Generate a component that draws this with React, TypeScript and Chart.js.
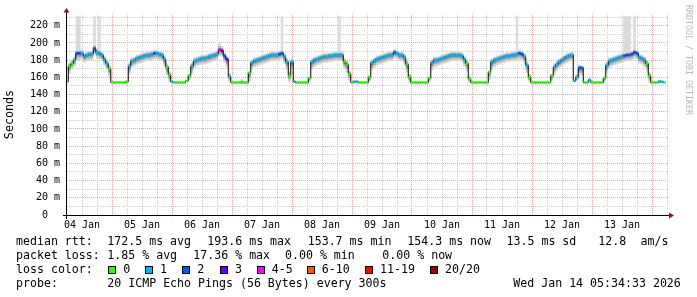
import { useEffect, useRef } from 'react';
import { Chart, registerables } from 'chart.js';

Chart.register(...registerables);

// ---------- data ----------
const dayLabels = ['04 Jan', '05 Jan', '06 Jan', '07 Jan', '08 Jan', '09 Jan', '10 Jan', '11 Jan', '12 Jan', '13 Jan'];

// first sample: 04 Jan 06:00, hourly (hours since 04 Jan 00:00)
const startHour = 6;

// median rtt (ms), one value per hour
const medianRtt = [
  // 04 Jan 06-23
  155, 173, 176, 180, 188, 188, 188, 184, 186, 187, 187, 193.6, 189, 188, 186, 181, 176, 170,
  // 05 Jan
  154, 154, 154, 154, 154, 154, 155, 173, 179, 180, 182, 183, 184, 185, 186, 186, 187, 188, 188, 187, 186, 181, 172, 163,
  // 06 Jan
  155, 154, 154, 154, 154, 154, 156, 162, 173, 179, 180, 181, 182, 182, 183, 184, 185, 186, 187, 192, 191, 185, 181, 161,
  // 07 Jan
  154, 154, 154, 154, 154, 154, 154, 165, 177, 179, 180, 181, 182, 183, 184, 185, 186, 186, 186, 187, 188, 184, 178, 162,
  // 08 Jan
  178, 155, 154, 154, 154, 154, 154, 159, 178, 180, 181, 182, 183, 184, 184, 185, 185, 186, 186, 186, 186, 178, 175, 164,
  // 09 Jan
  154, 155, 155, 154, 154, 154, 154, 160, 177, 179, 181, 182, 183, 184, 185, 186, 186, 189, 188, 186, 186, 183, 175, 160,
  // 10 Jan
  154, 154, 154, 154, 154, 154, 154, 159, 177, 180, 180, 181, 182, 183, 184, 185, 186, 186, 186, 186, 185, 181, 176, 158,
  // 11 Jan
  154, 154, 154, 154, 154, 154, 154, 166, 178, 180, 181, 182, 183, 184, 185, 185, 186, 186, 187, 188, 187, 184, 174, 160,
  // 12 Jan
  154, 154, 154, 154, 154, 154, 154, 154, 162, 172, 175, 178, 180, 182, 184, 185, 186, 156, 160, 171, 171, 154, 154, 157,
  // 13 Jan
  154, 154, 154, 154, 154, 159, 174, 179, 180, 181, 182, 183, 184, 185, 186, 186, 187, 189, 188, 183, 182, 180, 176, 162,
  // 14 Jan 00-05
  154, 154, 154, 155, 155, 154,
];

// lost pings (out of 20) per hour
const lossCount = [
  0, 0, 0, 1, 2, 2, 1, 1, 1, 1, 1, 2, 1, 1, 1, 1, 1, 0,
  0, 0, 0, 0, 0, 0, 0, 1, 1, 1, 1, 1, 1, 1, 1, 1, 1, 2, 1, 1, 1, 1, 0, 0,
  1, 0, 0, 0, 0, 0, 0, 0, 1, 1, 1, 1, 1, 1, 1, 1, 1, 1, 1, 4, 3, 2, 3, 1,
  0, 0, 0, 0, 0, 0, 0, 0, 1, 1, 1, 1, 1, 1, 1, 1, 1, 1, 1, 2, 2, 1, 1, 0,
  1, 1, 0, 0, 0, 0, 0, 0, 1, 1, 1, 1, 1, 1, 1, 1, 1, 1, 1, 1, 1, 0, 0, 0,
  0, 1, 1, 0, 0, 0, 0, 0, 1, 1, 1, 1, 1, 1, 1, 1, 1, 2, 1, 1, 1, 1, 0, 0,
  0, 0, 0, 0, 0, 0, 0, 0, 1, 1, 1, 1, 1, 1, 1, 1, 1, 1, 1, 1, 1, 1, 0, 0,
  0, 0, 0, 0, 0, 0, 0, 0, 1, 1, 1, 1, 1, 1, 1, 1, 1, 1, 1, 2, 2, 1, 1, 0,
  0, 0, 0, 0, 0, 0, 0, 0, 0, 1, 1, 1, 1, 1, 1, 1, 1, 1, 1, 2, 2, 0, 0, 1,
  0, 0, 0, 0, 0, 0, 1, 1, 1, 1, 1, 1, 1, 2, 2, 2, 2, 2, 2, 1, 1, 1, 0, 0,
  0, 0, 0, 1, 1, 0,
];

// smoke spread above the median (ms)
const smokeUp = [
  1, 4, 4, 4, 4, 4, 4, 4, 4, 4, 4, 4, 4, 4, 4, 4, 4, 4,
  1, 1, 1, 1, 1, 1, 1, 4, 4, 4, 4, 4, 4, 4, 4, 4, 4, 4, 4, 4, 4, 4, 4, 4,
  1, 1, 1, 1, 1, 1, 1, 2, 4, 4, 4, 4, 4, 4, 4, 4, 4, 4, 4, 6, 5, 4, 4, 4,
  1, 1, 1, 1, 4, 1, 1, 2, 4, 4, 4, 4, 4, 4, 4, 4, 4, 4, 4, 4, 4, 4, 4, 5,
  4, 1, 1, 1, 1, 1, 1, 2, 4, 4, 4, 4, 4, 4, 4, 4, 4, 4, 4, 4, 4, 4, 4, 4,
  1, 1, 1, 1, 1, 1, 1, 2, 4, 4, 4, 4, 4, 4, 4, 4, 4, 4, 4, 4, 4, 4, 4, 4,
  1, 1, 1, 1, 1, 1, 1, 2, 4, 4, 4, 4, 4, 4, 4, 4, 4, 4, 4, 4, 4, 4, 4, 4,
  1, 1, 1, 1, 1, 1, 1, 2, 4, 4, 4, 4, 4, 4, 4, 4, 4, 4, 4, 4, 4, 4, 4, 4,
  1, 1, 1, 1, 1, 1, 1, 1, 2, 4, 4, 4, 4, 4, 4, 4, 4, 1, 4, 4, 2, 1, 1, 2,
  1, 1, 1, 1, 1, 2, 4, 4, 4, 4, 4, 4, 4, 4, 4, 4, 4, 4, 4, 4, 4, 4, 4, 4,
  1, 1, 1, 2, 1, 1,
];

// smoke spread below the median (ms)
const smokeDown = [
  1, 9, 7, 7, 8, 8, 7, 7, 7, 7, 7, 7, 7, 7, 7, 7, 7, 9,
  1, 1, 1, 1, 1, 1, 1, 10, 8, 7, 7, 7, 7, 7, 7, 7, 7, 7, 7, 7, 7, 8, 9, 8,
  1, 1, 1, 1, 1, 1, 1, 5, 9, 8, 7, 7, 7, 7, 7, 7, 7, 7, 7, 7, 7, 8, 9, 6,
  1, 1, 1, 1, 1, 1, 1, 10, 8, 7, 7, 7, 7, 7, 7, 7, 7, 7, 7, 7, 7, 8, 9, 7,
  9, 1, 1, 1, 1, 1, 1, 4, 9, 8, 7, 7, 7, 7, 7, 7, 7, 7, 7, 7, 7, 8, 9, 8,
  1, 1, 1, 1, 1, 1, 1, 5, 9, 8, 7, 7, 7, 7, 7, 7, 7, 7, 7, 7, 7, 8, 9, 5,
  1, 1, 1, 1, 1, 1, 1, 4, 9, 8, 7, 7, 7, 7, 7, 7, 7, 7, 7, 7, 7, 8, 9, 4,
  1, 1, 1, 1, 1, 1, 1, 9, 9, 8, 7, 7, 7, 7, 7, 7, 7, 7, 7, 7, 7, 8, 9, 5,
  1, 1, 1, 1, 1, 1, 1, 1, 6, 8, 7, 7, 7, 7, 7, 7, 7, 1, 4, 9, 9, 1, 1, 2,
  1, 1, 1, 1, 1, 4, 9, 8, 7, 7, 7, 7, 7, 7, 7, 7, 7, 7, 7, 7, 7, 8, 9, 7,
  1, 1, 1, 1, 1, 1,
];

// single outlier pings reaching far above the smoke (hour since 04 Jan 00:00, max ms)
const spikeHours = [10, 11, 17, 19, 67, 92, 115, 186, 229, 230, 231, 233];
const spikeTops = [231, 231, 231, 231, 200, 231, 231, 231, 231, 231, 231, 231];

const yTickValues = [0, 10, 20, 30, 40, 50, 60, 70, 80, 90, 100, 110, 120, 130, 140, 150, 160, 170, 180, 190, 200, 210, 220, 230];

const lossLabels = ['0', '1', '2', '3', '4-5', '6-10', '11-19', '20/20'];
const lossColors = ['#26ff00', '#00b8ff', '#0059ff', '#5e00ff', '#ff00ff', '#ff5500', '#ff0000', '#a00000'];

const rttStats = ['172.5 ms avg', '193.6 ms max', '153.7 ms min', '154.3 ms now', '13.5 ms sd', '12.8', 'am/s'];
const lossStats = ['1.85 % avg', '17.36 % max', '0.00 % min', '0.00 % now'];
const probeText = '20 ICMP Echo Pings (56 Bytes) every 300s';
const stampText = 'Wed Jan 14 05:34:33 2026';

// ---------- helpers ----------
const MONO = '"DejaVu Sans Mono", monospace';

function lossClass(n: number): number {
  if (n <= 3) return n;
  if (n <= 5) return 4;
  if (n <= 10) return 5;
  if (n < 20) return 6;
  return 7;
}

const xs = medianRtt.map((_, i) => startHour + i);
const toPts = (arr: number[]) => arr.map((y, i) => ({ x: xs[i], y }));

const band = (f: number, up: boolean) =>
  toPts(medianRtt.map((m, i) => (up ? m + smokeUp[i] * f : m - smokeDown[i] * f)));

const spikeLine = toPts(
  medianRtt.map((m, i) => {
    const k = spikeHours.indexOf(xs[i]);
    return k >= 0 ? spikeTops[k] : m;
  })
);

const decorPlugin = {
  id: 'decor',
  beforeDraw(chart: any) {
    const ctx = chart.ctx;
    ctx.save();
    ctx.fillStyle = '#ffffff';
    ctx.fillRect(0, 0, chart.width, chart.height);
    ctx.restore();
  },
  afterDraw(chart: any) {
    const ctx = chart.ctx as CanvasRenderingContext2D;
    const { left, right, top, bottom } = chart.chartArea;
    ctx.save();
    // axes
    ctx.strokeStyle = '#000';
    ctx.lineWidth = 1;
    ctx.setLineDash([]);
    ctx.beginPath();
    ctx.moveTo(left - 4, bottom + 0.5);
    ctx.lineTo(right + 3, bottom + 0.5);
    ctx.stroke();
    ctx.beginPath();
    ctx.moveTo(left - 0.5, bottom + 4);
    ctx.lineTo(left - 0.5, top - 2);
    ctx.stroke();
    // arrows
    ctx.fillStyle = '#8e1414';
    ctx.beginPath();
    ctx.moveTo(right + 1, bottom + 0.5 - 3);
    ctx.lineTo(right + 6, bottom + 0.5);
    ctx.lineTo(right + 1, bottom + 0.5 + 3);
    ctx.closePath();
    ctx.fill();
    ctx.beginPath();
    ctx.moveTo(left - 0.5 - 3, top - 1.5);
    ctx.lineTo(left - 0.5, top - 6);
    ctx.lineTo(left - 0.5 + 3, top - 1.5);
    ctx.closePath();
    ctx.fill();

    // watermark
    ctx.save();
    ctx.translate(688, 5);
    ctx.rotate(Math.PI / 2);
    ctx.font = `8.3px ${MONO}`;
    ctx.fillStyle = '#b8b8b8';
    ctx.textAlign = 'left';
    ctx.textBaseline = 'middle';
    ctx.fillText('RRDTOOL / TOBI OETIKER', 0, 0);
    ctx.restore();

    // legend
    ctx.font = `11.6px ${MONO}`;
    ctx.fillStyle = '#000';
    ctx.textAlign = 'left';
    ctx.textBaseline = 'alphabetic';
    const row1X = [107.3, 207.3, 307.7, 407.3, 506.5, 598.3, 640.5];
    ctx.fillText('median rtt:', 16, 245);
    rttStats.forEach((t, i) => ctx.fillText(t, row1X[i], 245));
    const row2X = [107.3, 193.3, 285, 382.3];
    ctx.fillText('packet loss:', 16, 259);
    lossStats.forEach((t, i) => ctx.fillText(t, row2X[i], 259));
    ctx.fillText('loss color:', 16, 273);
    const labX = [123.3, 160, 197.3, 235, 271.7, 321.7, 380, 445];
    lossLabels.forEach((t, i) => {
      const sx = Math.round(labX[i] - 15);
      ctx.fillStyle = lossColors[i];
      ctx.fillRect(sx, 266, 8, 8);
      ctx.strokeStyle = '#000';
      ctx.lineWidth = 1;
      ctx.strokeRect(sx + 0.5, 266.5, 7, 7);
      ctx.fillStyle = '#000';
      ctx.fillText(t, labX[i], 273);
    });
    ctx.fillText('probe:', 16, 287);
    ctx.fillText(probeText, 107.3, 287);
    ctx.fillText(stampText, 513.3, 287);
    ctx.restore();
  },
};

export default function App() {
  const ref = useRef<HTMLCanvasElement>(null);

  useEffect(() => {
    const canvas = ref.current;
    if (!canvas) return;
    const colors = lossCount.map((n) => lossColors[lossClass(n)]);
    const lineBase = {
      type: 'line' as const,
      stepped: 'middle' as const,
      pointRadius: 0,
      borderWidth: 0,
    };
    const chart = new Chart(canvas, {
      type: 'line',
      data: {
        datasets: [
          {
            // 0: loss-coloured median marks
            ...lineBase,
            data: toPts(medianRtt),
            showLine: false,
            pointStyle: 'line',
            pointRadius: 1.25,
            pointBorderWidth: 2.5,
            pointBorderColor: colors,
            pointBackgroundColor: colors,
            order: 0,
          },
          {
            // 1: median line
            ...lineBase,
            data: toPts(medianRtt),
            borderColor: '#000',
            borderWidth: 1,
            order: 1,
          },
          { ...lineBase, data: band(0.3, true), fill: 3, backgroundColor: '#7c7c7c', order: 2 },
          { ...lineBase, data: band(0.3, false), order: 2 },
          { ...lineBase, data: band(0.6, true), fill: 5, backgroundColor: '#a8a8a8', order: 3 },
          { ...lineBase, data: band(0.6, false), order: 3 },
          { ...lineBase, data: band(1, true), fill: 7, backgroundColor: '#d2d2d2', order: 4 },
          { ...lineBase, data: band(1, false), order: 4 },
          { ...lineBase, data: spikeLine, fill: 1, backgroundColor: '#dadada', order: 5 },
        ] as any,
      },
      options: {
        responsive: false,
        animation: false,
        devicePixelRatio: 1,
        events: [],
        layout: { padding: { left: 0, right: 29, top: 14, bottom: 0 } },
        plugins: { legend: { display: false }, tooltip: { enabled: false } },
        scales: {
          x: {
            type: 'linear',
            min: 6,
            max: 246.4,
            afterFit: (s: any) => {
              s.height = 82;
            },
            afterBuildTicks: (s: any) => {
              const t = [];
              for (let h = 12; h <= 246; h += 6) t.push({ value: h });
              s.ticks = t;
            },
            grid: {
              drawTicks: false,
              lineWidth: 1,
              color: (c: any) => (c.tick && c.tick.value % 24 === 0 ? '#e8a6a6' : '#cdcdcd'),
            },
            border: { display: false, dash: [1, 1] },
            ticks: {
              autoSkip: false,
              maxRotation: 0,
              minRotation: 0,
              padding: 4,
              color: '#000',
              font: { family: MONO, size: 10 },
              callback: (v: any) => (v % 24 === 12 ? dayLabels[(v - 12) / 24] : ''),
            },
          },
          y: {
            type: 'linear',
            min: 0,
            max: 233.6,
            afterFit: (s: any) => {
              s.width = 67;
            },
            afterBuildTicks: (s: any) => {
              s.ticks = yTickValues.map((v) => ({ value: v }));
            },
            grid: {
              drawTicks: false,
              lineWidth: 1,
              color: (c: any) => {
                const v = c.tick ? c.tick.value : 0;
                if (v === 0) return 'rgba(0,0,0,0)';
                return v % 20 === 0 ? '#e8a6a6' : '#cdcdcd';
              },
            },
            border: { display: false, dash: [1, 1] },
            title: {
              display: true,
              text: 'Seconds',
              color: '#000',
              font: { family: MONO, size: 11.7 },
              padding: { top: 3, bottom: 0 },
            },
            ticks: {
              autoSkip: false,
              padding: 7,
              color: '#000',
              font: { family: MONO, size: 10 },
              callback: (v: any) => (v % 20 === 0 ? (v === 0 ? '0  ' : `${v} m`) : ''),
            },
          },
        },
      } as any,
      plugins: [decorPlugin],
    });
    return () => chart.destroy();
  }, []);

  return (
    <div style={{ position: 'fixed', left: 0, top: 0, width: 697, height: 297, background: '#fff' }}>
      <canvas ref={ref} width={697} height={297} style={{ display: 'block' }} />
    </div>
  );
}
